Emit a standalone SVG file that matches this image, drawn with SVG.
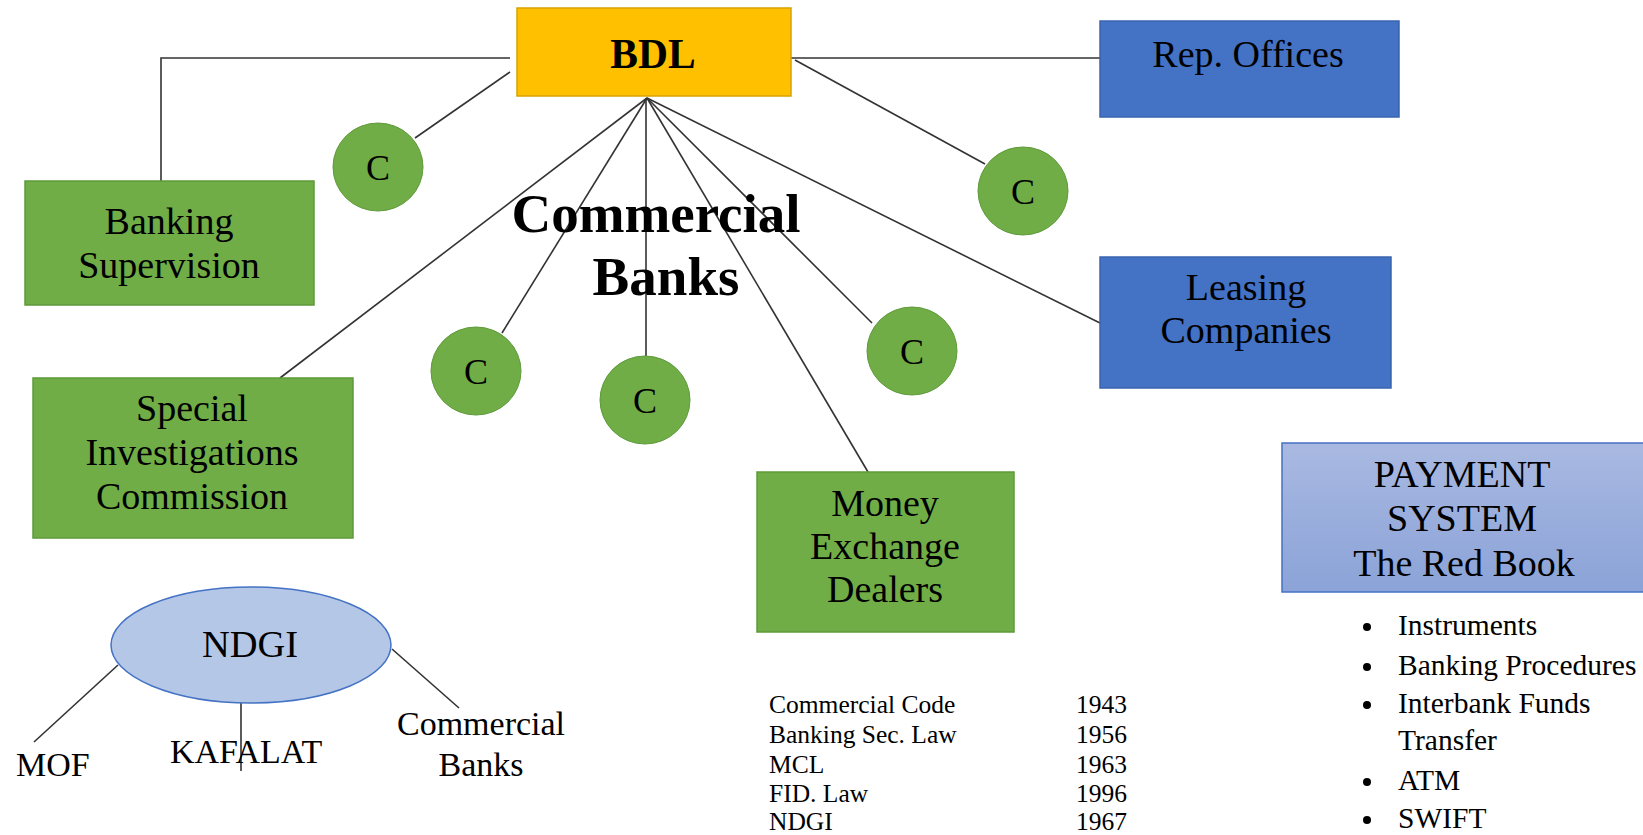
<svg xmlns="http://www.w3.org/2000/svg" width="1643" height="835" viewBox="0 0 1643 835">
<style>
text{font-family:"Liberation Serif","Times New Roman",serif;fill:#000;}
.green{fill:#70AD47;stroke:#5E9A3A;stroke-width:1.5;}
.blue{fill:#4472C4;stroke:#3A64B0;stroke-width:1.5;}
.gold{fill:#FFC000;stroke:#D9A200;stroke-width:1.5;}
.circ{fill:#70AD47;stroke:#5E9A3A;stroke-width:1;}
.lbl{font-size:38px;text-anchor:middle;}
.c{font-size:36px;text-anchor:middle;}
.sm{font-size:34px;}
.law{font-size:25.5px;}
.bul{font-size:29.5px;}
.conn line,.conn polyline{stroke:#333;stroke-width:1.6;fill:none;}
</style>
<defs>
<linearGradient id="pay" x1="0" y1="0" x2="0" y2="1">
<stop offset="0" stop-color="#A9B9E1"/>
<stop offset="1" stop-color="#8BA3D8"/>
</linearGradient>
</defs>
<rect width="1643" height="835" fill="#fff"/>
<g class="conn" id="connectors">
<polyline points="510,58 161,58 161,181"/>
<line x1="510" y1="72" x2="415" y2="138"/>
<line x1="791" y1="58" x2="1100" y2="58"/>
<line x1="795" y1="60" x2="985" y2="164"/>
<line x1="647" y1="98" x2="280" y2="378"/>
<line x1="647" y1="98" x2="502" y2="333"/>
<line x1="646" y1="98" x2="646" y2="356"/>
<line x1="647" y1="98" x2="868" y2="472"/>
<line x1="647" y1="98" x2="872" y2="323"/>
<line x1="647" y1="98" x2="1100" y2="323"/>
<line x1="118" y1="665" x2="34" y2="742"/>
<line x1="241" y1="703" x2="241" y2="771"/>
<line x1="392" y1="649" x2="459" y2="708"/>
</g>
<g id="bdl">
<rect class="gold" x="517" y="8" width="274" height="88"/>
<text x="653" y="68" font-size="41.5" font-weight="bold" text-anchor="middle">BDL</text>
</g>
<g id="rep-offices">
<rect class="blue" x="1100" y="21" width="299" height="96"/>
<text class="lbl" x="1248" y="67">Rep. Offices</text>
</g>
<g id="banking-supervision">
<rect class="green" x="25" y="181" width="289" height="124"/>
<text class="lbl" x="169" y="234">Banking</text>
<text class="lbl" x="169" y="278">Supervision</text>
</g>
<g id="leasing">
<rect class="blue" x="1100" y="257" width="291" height="131"/>
<text class="lbl" x="1246" y="300">Leasing</text>
<text class="lbl" x="1246" y="343">Companies</text>
</g>
<g id="special-investigations">
<rect class="green" x="33" y="378" width="320" height="160"/>
<text class="lbl" x="192" y="421">Special</text>
<text class="lbl" x="192" y="465">Investigations</text>
<text class="lbl" x="192" y="509">Commission</text>
</g>
<g id="money-exchange">
<rect class="green" x="757" y="472" width="257" height="160"/>
<text class="lbl" x="885" y="516">Money</text>
<text class="lbl" x="885" y="559">Exchange</text>
<text class="lbl" x="885" y="602">Dealers</text>
</g>
<g id="c1"><ellipse class="circ" cx="378" cy="167" rx="45" ry="44"/><text class="c" x="378" y="180">C</text></g>
<g id="c2"><ellipse class="circ" cx="1023" cy="191" rx="45" ry="44"/><text class="c" x="1023" y="204">C</text></g>
<g id="c3"><ellipse class="circ" cx="476" cy="371" rx="45" ry="44"/><text class="c" x="476" y="384">C</text></g>
<g id="c4"><ellipse class="circ" cx="645" cy="400" rx="45" ry="44"/><text class="c" x="645" y="413">C</text></g>
<g id="c5"><ellipse class="circ" cx="912" cy="351" rx="45" ry="44"/><text class="c" x="912" y="364">C</text></g>
<g id="commercial-banks-label">
<text x="656" y="232" font-size="55" font-weight="bold" text-anchor="middle">Commercial</text>
<text x="666" y="295" font-size="55" font-weight="bold" text-anchor="middle">Banks</text>
</g>
<g id="ndgi">
<ellipse cx="251" cy="645" rx="140" ry="58" fill="#B4C7E7" stroke="#4472C4" stroke-width="1.5"/>
<text x="250" y="657" font-size="38.5" text-anchor="middle">NDGI</text>
</g>
<g id="mof"><text class="sm" x="16" y="776">MOF</text></g>
<g id="kafalat"><text class="sm" x="170" y="763" font-size="35.5">KAFALAT</text></g>
<g id="ndgi-banks">
<text class="sm" x="481" y="735" text-anchor="middle">Commercial</text>
<text class="sm" x="481" y="776" text-anchor="middle">Banks</text>
</g>
<g id="payment-system">
<rect x="1282" y="443" width="380" height="149" fill="url(#pay)" stroke="#4472C4" stroke-width="1.5"/>
<text class="lbl" x="1462" y="487" font-size="38.5">PAYMENT</text>
<text class="lbl" x="1462" y="531" font-size="38.5">SYSTEM</text>
<text class="lbl" x="1464" y="576">The Red Book</text>
</g>
<g id="payment-list">
<circle cx="1367" cy="627" r="4"/><text class="bul" x="1398" y="635">Instruments</text>
<circle cx="1367" cy="667" r="4"/><text class="bul" x="1398" y="675">Banking Procedures</text>
<circle cx="1367" cy="705" r="4"/><text class="bul" x="1398" y="713">Interbank Funds</text>
<text class="bul" x="1398" y="750">Transfer</text>
<circle cx="1367" cy="782" r="4"/><text class="bul" x="1398" y="790">ATM</text>
<circle cx="1367" cy="820" r="4"/><text class="bul" x="1398" y="828">SWIFT</text>
</g>
<g id="laws">
<text class="law" x="769" y="713">Commercial Code</text><text class="law" x="1076" y="713">1943</text>
<text class="law" x="769" y="743">Banking Sec. Law</text><text class="law" x="1076" y="743">1956</text>
<text class="law" x="769" y="773">MCL</text><text class="law" x="1076" y="773">1963</text>
<text class="law" x="769" y="802">FID. Law</text><text class="law" x="1076" y="802">1996</text>
<text class="law" x="769" y="830">NDGI</text><text class="law" x="1076" y="830">1967</text>
</g>
</svg>
